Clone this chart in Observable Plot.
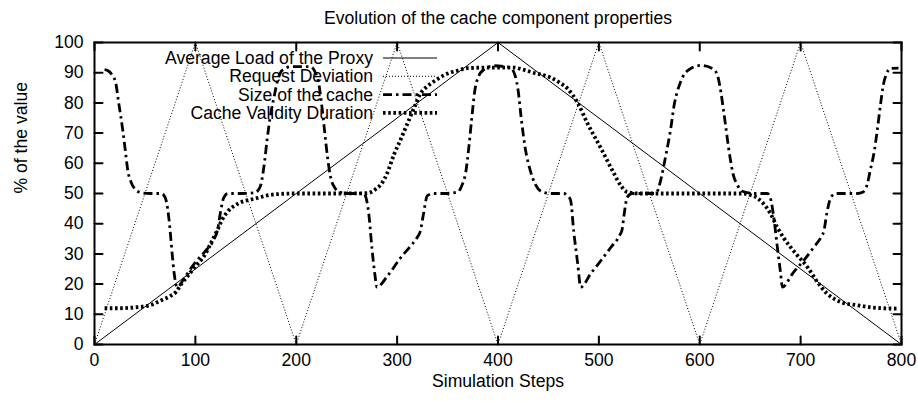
<!DOCTYPE html>
<html>
<head>
<meta charset="utf-8">
<script src="https://cdn.jsdelivr.net/npm/d3@7"></script>
<script src="https://cdn.jsdelivr.net/npm/@observablehq/plot@0.6"></script>
<style>
  html, body { margin: 0; padding: 0; background: white; }
</style>
</head>
<body>
<div id="chart"></div>
<script>
const title = "Evolution of the cache component properties";
const xLabel = "Simulation Steps";
const yLabel = "% of the value";
const seriesNames = ["Average Load of the Proxy", "Request Deviation", "Size of the cache", "Cache Validity Duration"];

const xTicks = [0, 100, 200, 300, 400, 500, 600, 700, 800];
const yTicks = [0, 10, 20, 30, 40, 50, 60, 70, 80, 90, 100];

// Average Load of the Proxy
const loadSteps = [0, 400, 800];
const loadValues = [0, 100, 0];

// Request Deviation
const devSteps = [0, 100, 200, 300, 400, 500, 600, 700, 800];
const devValues = [0, 100, 0, 100, 0, 100, 0, 100, 0];

// Size of the cache
const sizeSteps = [10, 13, 17, 21, 24, 28, 31, 33, 36, 40, 46, 55, 66, 69, 71, 74, 77, 79, 81, 82, 89, 99, 110, 118, 122, 125, 128, 132, 145, 158, 162, 165, 168, 171, 174, 178, 182, 186, 195, 214, 219, 222, 225, 228, 231, 234, 238, 243, 250, 267, 269, 272, 275, 278, 280, 290, 303, 313, 320, 323, 326, 330, 336, 346, 360, 364, 368, 371, 374, 377, 381, 386, 396, 412, 417, 420, 423, 427, 432, 437, 444, 452, 465, 469, 472, 475, 479, 482, 492, 502, 512, 521, 523, 525, 528, 533, 541, 555, 558, 561, 566, 571, 575, 578, 583, 588, 601, 612, 617, 620, 624, 630, 633, 637, 642, 647, 655, 667, 670, 673, 677, 680, 682, 692, 703, 713, 721, 723, 726, 730, 735, 743, 756, 762, 766, 769, 773, 776, 779, 782, 785, 789, 797];
const sizeValues = [91, 90.7, 89.5, 86.7, 80, 71, 63, 57.6, 54, 51.5, 50.3, 50, 50, 49.3, 47.7, 41, 30, 23.5, 19.5, 19, 22, 26.8, 31, 34.5, 38, 44, 48.5, 50, 50, 50.2, 51, 53, 59, 67.5, 75, 82, 88, 90.8, 92, 92, 90, 87, 80, 71, 62, 55.5, 52, 50.5, 50, 50, 48.8, 43, 32, 23, 19, 22.5, 28.5, 32.5, 35.5, 37.5, 43, 49.3, 50, 50, 50.5, 52.5, 57, 65, 75, 84, 89, 91, 92.3, 91.7, 89, 84, 75, 65, 57.6, 53, 50.5, 50, 50, 49.3, 47.7, 37.7, 26.8, 19, 23.5, 27.8, 32.2, 36.4, 38, 43, 48.7, 50, 50, 50, 50.8, 54, 62, 71, 80, 84, 88.5, 90.7, 92.4, 91.5, 89.7, 85.5, 76.5, 62, 56.5, 53, 50.8, 50.3, 50, 50, 48.5, 43, 32, 24, 19, 23.5, 27.8, 32.2, 36, 37.5, 43.5, 48.7, 50, 50, 50, 50.5, 53, 57.6, 64, 71, 79, 86, 89.5, 91.4, 91.5];

// Cache Validity Duration
const validitySteps = [10, 25, 40, 55, 66, 75, 81, 86, 92, 99, 109, 116, 122, 126, 132, 142, 159, 178, 198, 240, 270, 276, 280, 284, 290, 297, 303, 310, 317, 323, 330, 336, 350, 360, 370, 390, 415, 425, 435, 452, 462, 469, 479, 489, 502, 515, 522, 528, 540, 600, 643, 650, 657, 663, 670, 677, 683, 693, 707, 716, 726, 733, 740, 756, 770, 782, 797];
const validityValues = [12, 12, 12.3, 13, 14.6, 16, 17.5, 20, 22.5, 25.5, 29.5, 34, 38, 41, 44, 46.6, 48.3, 49.7, 50, 50, 50.1, 50.8, 51.8, 53, 56.6, 63, 67.5, 73, 78.5, 83, 85.5, 87, 89.7, 90.7, 91.5, 91.7, 91.7, 91, 90, 88.4, 86.5, 84.7, 80, 73, 65, 56.6, 52.5, 50.5, 50, 50, 50, 49.5, 48.5, 46.7, 43.4, 38.7, 35.4, 31, 25.5, 21, 16.9, 15.2, 14, 13, 12.3, 12, 11.9];

const toRows = (xs, ys) => xs.map((x, i) => ({x, y: ys[i]}));
const load = toRows(loadSteps, loadValues);
const deviation = toRows(devSteps, devValues);
const size = toRows(sizeSteps, sizeValues);
const validity = toRows(validitySteps, validityValues);

const FONT = "Liberation Sans, Arial, Helvetica, sans-serif";
const FS = 17.6;

const styles = [
  {stroke: "black", strokeWidth: 1, strokeDasharray: null},
  {stroke: "black", strokeWidth: 1, strokeDasharray: "1,2"},
  {stroke: "black", strokeWidth: 2.8, strokeDasharray: "9,4,2.5,4"},
  {stroke: "black", strokeWidth: 3.8, strokeDasharray: "2.6,2.6"}
];

const tickShape = {draw(context, l) { context.moveTo(0, 0); context.lineTo(0, -l); }};
const tickOpts = {length: 8, anchor: "start", shape: tickShape, stroke: "black", strokeWidth: 2};

const chart = Plot.plot({
  width: 918,
  height: 402,
  marginLeft: 94,
  marginRight: 17,
  marginTop: 42,
  marginBottom: 58,
  style: {fontFamily: FONT, fontSize: FS + "px", background: "white", color: "black"},
  x: {domain: [0, 800]},
  y: {domain: [0, 100]},
  marks: [
    Plot.axisX({ticks: xTicks, tickSize: 0, tickPadding: 9, label: null, fontSize: FS, tickFormat: d => String(d)}),
    Plot.axisY({ticks: yTicks, tickSize: 0, tickPadding: 11, label: null, fontSize: FS, tickFormat: d => String(d)}),
    Plot.line(load, {x: "x", y: "y", ...styles[0], strokeLinecap: "butt", clip: true}),
    Plot.line(deviation, {x: "x", y: "y", ...styles[1], strokeLinecap: "butt", clip: true}),
    Plot.line(size, {x: "x", y: "y", ...styles[2], strokeLinecap: "butt", curve: "monotone-x", clip: true}),
    Plot.line(validity, {x: "x", y: "y", ...styles[3], strokeLinecap: "butt", curve: "monotone-x", clip: true}),
    Plot.vector(xTicks, {x: d => d, frameAnchor: "bottom", rotate: 0, ...tickOpts}),
    Plot.vector(xTicks, {x: d => d, frameAnchor: "top", rotate: 180, ...tickOpts}),
    Plot.vector(yTicks, {y: d => d, frameAnchor: "left", rotate: 90, ...tickOpts}),
    Plot.vector(yTicks, {y: d => d, frameAnchor: "right", rotate: 270, ...tickOpts}),
    Plot.frame({stroke: "black", strokeWidth: 2}),
    Plot.text([title], {frameAnchor: "top", dy: -31, fontSize: FS, fill: "black"}),
    Plot.text([xLabel], {frameAnchor: "bottom", dy: 42, fontSize: FS, fill: "black"}),
    Plot.text([yLabel], {frameAnchor: "left", dx: -73, rotate: -90, fontSize: FS, fill: "black"})
  ]
});

// Legend (key), gnuplot-style, inside the plot at the upper left
const key = d3.select(chart).append("g")
  .attr("font-family", FONT)
  .attr("font-size", FS);
seriesNames.forEach((name, i) => {
  const yy = 58 + 18.3 * i;
  key.append("text")
    .attr("x", 373).attr("y", yy).attr("dy", "0.35em")
    .attr("text-anchor", "end").attr("fill", "black")
    .text(name);
  const s = styles[i];
  key.append("line")
    .attr("x1", 383).attr("x2", 437).attr("y1", yy).attr("y2", yy)
    .attr("stroke", s.stroke).attr("stroke-width", s.strokeWidth)
    .attr("stroke-dasharray", s.strokeDasharray);
});

document.getElementById("chart").appendChild(chart);
</script>
</body>
</html>
